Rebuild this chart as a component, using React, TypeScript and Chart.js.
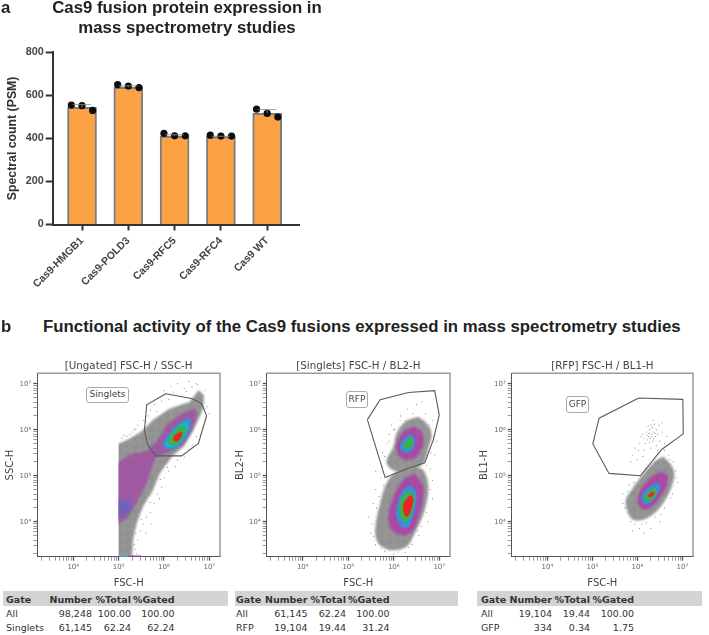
import React, { useEffect, useRef } from "react";
import { Chart, registerables } from "chart.js";

const softEdgePlugin = {
  id: "softEdge",
  beforeDatasetDraw(chart: any, args: any) {
    const ds = chart.data.datasets[args.index];
    if (!ds.soft) return;
    const { ctx, chartArea: a, scales } = chart;
    ctx.save();
    if (ds.clipFrom) {
      const x = scales.x.getPixelForValue(ds.clipFrom);
      ctx.beginPath();
      ctx.rect(x, a.top, a.right - x, a.bottom - a.top);
      ctx.clip();
    }
    ctx.filter = `blur(${ds.soft}px)`;
  },
  afterDatasetDraw(chart: any, args: any) {
    if (chart.data.datasets[args.index].soft) chart.ctx.restore();
  },
};
Chart.register(softEdgePlugin as any);
Chart.register(...registerables);

// ---------- panel a data ----------
const categories = ["Cas9-HMGB1", "Cas9-POLD3", "Cas9-RFC5", "Cas9-RFC4", "Cas9 WT"];
const meanPsm = [544, 637, 411, 408, 516];
const sdPsm = [13, 7, 6, 2, 18];
const replicatesPsm = [
  [555, 552, 530],
  [650, 643, 636],
  [423, 412, 412],
  [415, 411, 411],
  [536, 516, 499],
];
const replicateOffsets = [-0.23, 0, 0.23];

// ---------- panel b data (log10 FSC-H, log10 signal) ----------
type P = [number, number];
const p1Gate: P[] = [[6.04,6.78],[6.61,6.68],[6.83,6.57],[6.94,6.30],[6.76,5.70],[6.39,5.43],[5.82,5.43],[5.64,5.67],[5.57,5.99],[5.62,6.54]];
const p1Gray: P[] = [[4.9,3.24],[4.9,5.70],[5.0,5.70],[5.25,5.81],[5.54,5.99],[5.76,6.21],[6.13,6.46],[6.57,6.61],[6.76,6.86],[6.88,6.75],[6.87,6.5],[6.79,6.28],[6.65,5.99],[6.43,5.63],[6.21,5.45],[5.91,5.05],[5.76,4.69],[5.54,4.33],[5.40,3.96],[5.32,3.6],[5.29,3.24]];
const p1Magenta: P[] = [[4.9,3.89],[4.9,5.2],[5.24,5.45],[5.62,5.54],[5.87,5.78],[6.06,6.10],[6.35,6.32],[6.68,6.46],[6.73,6.32],[6.61,5.99],[6.43,5.70],[6.13,5.52],[5.84,5.41],[5.76,5.27],[5.65,4.91],[5.47,4.54],[5.21,4.11]];
const p1Low: P[] = [[4.9,4.48],[5.21,4.46],[5.29,4.33],[5.18,4.18],[4.9,4.09]];
const p1Blue: P[] = [[6.60,6.26],[6.44,6.21],[6.21,6.03],[6.02,5.78],[5.99,5.63],[6.17,5.57],[6.39,5.70],[6.57,5.99]];
const p1Cyan: P[] = [[6.54,6.17],[6.39,6.14],[6.19,5.96],[6.06,5.75],[6.04,5.64],[6.18,5.62],[6.37,5.74],[6.52,6.01]];
const p1Green: P[] = [[6.49,6.07],[6.34,6.07],[6.13,5.85],[6.10,5.70],[6.24,5.67],[6.43,5.85]];
const p1Red: P[] = [[6.39,5.96],[6.24,5.88],[6.21,5.78],[6.28,5.74],[6.39,5.85]];
const p1Events: P[] = [[5.12,5.88],[5.3,5.95],[5.42,6.1],[5.55,6.2],[5.7,6.42],[5.8,6.55],[5.9,6.7],[6.0,6.85],[6.15,6.95],[6.3,7.0],[6.55,7.05],[6.62,6.93],[6.75,6.98],[6.9,6.85],[6.95,6.5],[6.92,6.2],[6.8,5.9],[6.62,5.65],[6.45,5.4],[6.25,5.2],[6.1,5.1],[6.0,4.95],[5.95,4.75],[5.85,4.6],[5.78,4.4],[5.7,4.2],[5.62,4.1],[5.55,3.95],[5.48,3.8],[5.42,3.6],[5.38,3.4],[5.4,3.3],[5.9,4.5],[5.72,3.95],[5.6,3.75],[6.05,5.35],[5.25,5.9],[5.08,5.82],[5.35,6.0],[5.65,6.3],[5.95,6.62],[6.2,6.82],[6.45,6.9],[6.7,7.0],[7.0,6.35],[6.86,6.05],[5.5,4.3],[5.68,4.6],[5.8,5.0],[5.18,5.86],[5.38,6.02],[5.6,6.18],[5.84,6.4],[6.1,6.66],[6.5,6.84],[6.92,6.45],[6.72,5.85],[6.55,5.58],[6.3,5.34],[6.08,5.18],[5.92,4.92],[5.7,4.42],[5.5,4.05],[5.38,3.75],[5.34,3.5]];
const p1PileCyan: P[] = [[5.0,3.25],[5.2,3.25]];
const p1PileMagenta: P[] = [[5.2,3.25],[5.5,3.25]];

const p2Gate: P[] = [[5.42,6.22],[5.70,6.65],[6.32,6.81],[6.90,6.85],[7.00,6.32],[6.87,5.78],[6.68,5.28],[6.32,5.16],[5.81,4.96]];
const p2GrayUp: P[] = [[6.54,6.28],[6.72,6.14],[6.83,5.92],[6.76,5.59],[6.65,5.27],[6.35,5.09],[5.99,5.12],[5.84,5.30],[5.99,5.63],[6.06,5.92],[6.24,6.17]];
const p2GrayLow: P[] = [[6.43,5.20],[6.65,5.12],[6.76,4.76],[6.68,4.25],[6.46,3.75],[6.28,3.46],[5.92,3.38],[5.66,3.53],[5.59,3.82],[5.70,4.40],[5.84,4.83],[6.06,5.09]];
const p2MagentaUp: P[] = [[6.43,6.07],[6.61,5.96],[6.65,5.70],[6.50,5.41],[6.28,5.34],[6.10,5.45],[6.06,5.67],[6.21,5.96]];
const p2BlueUp: P[] = [[6.35,5.91],[6.46,5.81],[6.43,5.59],[6.28,5.49],[6.15,5.56],[6.17,5.74]];
const p2GreenUp: P[] = [[6.37,5.83],[6.43,5.78],[6.39,5.64],[6.28,5.57],[6.22,5.63],[6.27,5.76]];
const p2MagentaLow: P[] = [[6.46,5.05],[6.65,4.76],[6.61,4.33],[6.43,3.82],[6.21,3.71],[5.95,3.82],[5.88,4.11],[5.99,4.54],[6.21,4.91]];
const p2BlueLow: P[] = [[6.39,4.80],[6.50,4.62],[6.46,4.25],[6.32,3.89],[6.17,3.89],[6.05,4.14],[6.10,4.47],[6.24,4.72]];
const p2GreenLow: P[] = [[6.39,4.65],[6.46,4.51],[6.41,4.22],[6.28,4.00],[6.17,4.07],[6.11,4.29],[6.17,4.51],[6.28,4.63]];
const p2RedLow: P[] = [[6.39,4.58],[6.43,4.47],[6.35,4.18],[6.28,4.11],[6.21,4.22],[6.22,4.40],[6.32,4.54]];
const p2Events: P[] = [[5.75,5.5],[5.85,5.7],[5.9,5.9],[5.95,6.1],[6.15,6.3],[6.3,6.45],[6.5,6.55],[6.62,6.6],[6.7,6.35],[6.85,6.2],[6.95,5.75],[6.9,5.45],[6.8,5.15],[6.85,4.9],[6.85,4.5],[6.75,4.0],[6.55,3.7],[6.4,3.5],[6.6,3.9],[6.25,3.33],[6.0,3.3],[5.8,3.35],[5.6,3.5],[5.5,3.75],[5.45,4.1],[5.55,4.4],[5.6,4.7],[5.72,4.95],[5.6,5.1],[5.75,5.2],[6.25,6.2],[6.0,6.0],[6.7,6.0],[5.8,5.42],[5.9,5.75],[6.02,6.0],[6.14,6.2],[6.42,6.35],[6.78,6.1],[6.88,5.85],[6.82,5.5],[6.72,5.22],[6.8,4.7],[6.72,4.2],[6.52,3.8],[6.32,3.44],[6.1,3.34],[5.72,3.42],[5.56,3.68],[5.52,3.95],[5.62,4.3],[5.68,4.55],[5.78,4.78]];

const p3Gate: P[] = [[6.03,6.69],[7.01,6.66],[7.02,5.91],[6.54,5.57],[6.07,5.00],[5.37,5.05],[5.01,5.69],[5.15,6.25]];
const p3Gray: P[] = [[6.57,5.42],[6.75,5.24],[6.82,4.99],[6.68,4.58],[6.42,4.22],[6.12,4.04],[5.87,4.07],[5.74,4.44],[5.90,4.73],[6.12,5.02],[6.38,5.31]];
const p3Magenta: P[] = [[6.57,5.09],[6.68,4.95],[6.57,4.62],[6.27,4.29],[6.09,4.29],[6.00,4.47],[6.12,4.77],[6.38,5.02]];
const p3Blue: P[] = [[6.46,4.86],[6.51,4.77],[6.42,4.55],[6.23,4.38],[6.11,4.42],[6.09,4.55],[6.23,4.73]];
const p3Green: P[] = [[6.38,4.74],[6.44,4.66],[6.35,4.51],[6.21,4.44],[6.16,4.53],[6.26,4.67]];
const p3Red: P[] = [[6.35,4.66],[6.37,4.58],[6.27,4.53],[6.24,4.58]];
const p3Events: P[] = [[6.31,5.9],[6.25,5.85],[6.35,5.95],[6.28,6.0],[6.4,5.85],[6.2,5.95],[6.33,6.05],[6.22,5.78],[6.36,5.8],[6.3,6.1],[6.42,6.0],[6.15,5.82],[6.27,5.72],[6.45,5.9],[6.38,6.12],[6.18,5.7],[6.12,5.9],[6.5,5.75],[6.48,6.1],[6.24,6.08],[6.55,5.95],[6.05,5.7],[6.08,5.85],[6.02,5.55],[5.95,5.6],[6.15,5.55],[6.3,5.6],[6.42,5.65],[6.55,6.15],[6.35,6.2],[6.45,5.55],[5.9,5.45],[5.85,5.3],[6.0,5.35],[6.12,5.42],[6.6,5.7],[6.65,5.85],[6.32,5.85],[6.26,5.92],[6.34,5.75],[6.29,5.82],[6.39,5.92],[6.21,5.88],[6.6,5.55],[6.7,5.45],[6.8,5.3],[6.85,5.1],[6.9,4.85],[6.78,4.6],[6.6,4.3],[6.4,4.1],[6.2,3.98],[6.05,3.85],[5.95,3.95],[5.9,3.8],[6.15,3.75],[5.8,4.2],[5.68,4.4],[5.68,4.6],[5.82,4.8],[5.98,5.0],[6.18,5.15],[6.3,3.85],[6.5,4.0],[6.72,5.35],[6.86,4.95],[6.74,4.52],[6.52,4.16],[6.1,3.95],[5.85,4.0],[5.72,4.3],[5.78,4.66],[5.92,4.85]];

const table1 = [["Gate","Number","%Total","%Gated"],["All","98,248","100.00","100.00"],["Singlets","61,145","62.24","62.24"]];
const table2 = [["Gate","Number","%Total","%Gated"],["All","61,145","62.24","100.00"],["RFP","19,104","19.44","31.24"]];
const table3 = [["Gate","Number","%Total","%Gated"],["All","19,104","19.44","100.00"],["GFP","334","0.34","1.75"]];

// ---------- styles ----------
const BLUE = "#3b8fd6", CYAN = "#1fb3c4", GREEN = "#3fb04a", RED = "#ee2222", MAGENTA_FLAT = "#a2409f";
const ARIAL = "'Liberation Sans', Arial, sans-serif";
const UI = "'DejaVu Sans', sans-serif";
const LOG_MIN = 3.207, LOG_MAX = 7.236, LOGY_MIN = 3.239, LOGY_MAX = 7.225;
const TILE = ["#..#.#.#", ".#..##..", "#.#...#.", "..#.#..#", ".#...#.#", "#..#..#.", ".##.#...", "#...#.##"];

function mottled(dark: string, light: string) {
  const c = document.createElement("canvas");
  c.width = 8; c.height = 8;
  const g = c.getContext("2d")!;
  TILE.forEach((row, y) => [...row].forEach((ch, x) => {
    g.fillStyle = ch === "#" ? dark : light;
    g.fillRect(x, y, 1, 1);
  }));
  return g.createPattern(c, "repeat")!;
}

const toXY = (pts: P[]) => pts.map(([a, b]) => ({ x: Math.pow(10, a), y: Math.pow(10, b) }));

function contour(pts: P[], color: any, order: number, soft: number, tension = 0.35, clipFrom?: number) {
  return {
    type: "scatter", data: toXY([...pts, pts[0]]), showLine: true, fill: "shape", backgroundColor: color,
    borderColor: "rgba(0,0,0,0)", borderWidth: 0, pointRadius: 0, tension, order, soft, clipFrom,
  } as any;
}
function gate(pts: P[]) {
  return {
    type: "scatter", data: toXY([...pts, pts[0]]), showLine: true, fill: false, borderColor: "#5a5a5a",
    borderWidth: 1.1, pointRadius: 0, tension: 0, order: 0,
  } as any;
}
function events(pts: P[]) {
  return {
    type: "scatter", data: toXY(pts), showLine: false, pointRadius: 0.6, pointBackgroundColor: "#8f8f8f",
    pointBorderWidth: 0, order: 50,
  } as any;
}
function strip(pts: P[], color: string) {
  return {
    type: "scatter", data: toXY(pts), showLine: true, fill: false, borderColor: color, borderWidth: 1.5,
    pointRadius: 0, order: 1,
  } as any;
}

const framePlugin = {
  id: "frame",
  beforeDatasetsDraw(chart: any) {
    const { ctx, chartArea: a } = chart;
    ctx.save();
    ctx.strokeStyle = "#9a9a9a";
    ctx.lineWidth = 1.5;
    ctx.beginPath();
    ctx.moveTo(a.left, a.top);
    ctx.lineTo(a.right, a.top);
    ctx.lineTo(a.right, a.bottom);
    ctx.stroke();
    ctx.restore();
  },
};

const errorPlugin = {
  id: "errorBars",
  afterDatasetsDraw(chart: any) {
    const { ctx, scales } = chart;
    ctx.save();
    ctx.strokeStyle = "#8a8a8a";
    ctx.lineWidth = 0.8;
    meanPsm.forEach((m, i) => {
      const x0 = scales.x.getPixelForValue(i - 0.2);
      const x1 = scales.x.getPixelForValue(i + 0.2);
      const xc = scales.x.getPixelForValue(i);
      const yt = scales.y.getPixelForValue(m + sdPsm[i]);
      const yb = scales.y.getPixelForValue(m);
      ctx.beginPath();
      ctx.moveTo(x0, yt); ctx.lineTo(x1, yt);
      ctx.moveTo(xc, yt); ctx.lineTo(xc, yb);
      ctx.stroke();
    });
    ctx.restore();
  },
};

function logAxis(axis: "x" | "y", title: string, fit: number, min: number, max: number) {
  const isX = axis === "x";
  return {
    type: "logarithmic",
    min: Math.pow(10, min),
    max: Math.pow(10, max),
    afterBuildTicks(scale: any) {
      const out: any[] = [];
      for (let e = 3; e < 8; e++) {
        for (let m = 1; m < 10; m++) {
          const v = m * Math.pow(10, e);
          if (v >= scale.min && v <= scale.max) out.push({ value: v, major: m === 1 });
        }
      }
      scale.ticks = out;
    },
    afterFit(scale: any) {
      if (isX) scale.height = fit; else scale.width = fit;
    },
    title: {
      display: true, text: title, color: "#444",
      font: { family: UI, size: 10 },
      padding: isX ? { top: 0, bottom: 1 } : { top: 4, bottom: 0 },
    },
    border: { display: true, color: "#555", width: 1 },
    grid: {
      drawOnChartArea: false, drawTicks: true, tickLength: 4,
      tickColor: "#555",
      tickWidth: (c: any) => (c.tick && c.tick.major ? 1.3 : 0.6),
    },
    ticks: {
      autoSkip: false, maxRotation: 0, minRotation: 0, color: "#666", padding: 2,
      font: { family: UI, size: 7 },
      callback(v: number) {
        const e = Math.log10(v);
        if (Math.abs(e - Math.round(e)) > 1e-6) return "";
        return "10" + ({ 4: "⁴", 5: "⁵", 6: "⁶", 7: "⁷" } as any)[Math.round(e)];
      },
    },
  } as any;
}

function flowConfig(title: string, yTitle: string, datasets: any[], yFit: number, padRight: number) {
  return {
    type: "scatter",
    data: { datasets },
    plugins: [framePlugin],
    options: {
      animation: false, responsive: false,
      layout: { padding: { right: padRight, top: 0, bottom: 0, left: 0 } },
      plugins: {
        legend: { display: false }, tooltip: { enabled: false },
        title: {
          display: true, text: title, color: "#444", fullSize: false,
          font: { family: UI, size: 10.3, weight: "normal", lineHeight: 1.2 },
          padding: { top: 2, bottom: 1 },
        },
      },
      scales: {
        x: logAxis("x", "FSC-H", 33.3, LOG_MIN, LOG_MAX),
        y: logAxis("y", yTitle, yFit, LOGY_MIN, LOGY_MAX),
      },
    },
  } as any;
}

const gateLabels = [
  { text: "Singlets", left: 86, top: 387, w: 43, h: 15.5 },
  { text: "RFP", left: 346, top: 391, w: 22, h: 16.5 },
  { text: "GFP", left: 566, top: 396, w: 23, h: 16.5 },
];
const tableLayouts = [
  { data: table1, barL: 3, barW: 225, gate: 6, cols: [92, 131, 174.5] },
  { data: table2, barL: 235, barW: 222.5, gate: 236, cols: [307.5, 346, 389.5] },
  { data: table3, barL: 476.5, barW: 225, gate: 481, cols: [552, 590, 634] },
];

export default function App() {
  const barRef = useRef<HTMLCanvasElement>(null);
  const f1 = useRef<HTMLCanvasElement>(null);
  const f2 = useRef<HTMLCanvasElement>(null);
  const f3 = useRef<HTMLCanvasElement>(null);

  useEffect(() => {
    const GRAY = mottled("#7c7c7c", "#a4a4a4");
    const MAGENTA = mottled("#9c3a9c", "#b055ac");
    const MAGENTA_DUSTY = mottled("#a23fa2", "#9b6c9e");
    const charts: Chart[] = [];
    charts.push(new Chart(barRef.current!, {
      type: "bar",
      data: {
        datasets: [
          {
            type: "scatter",
            data: replicatesPsm.flatMap((r, i) => r.map((y, j) => ({ x: i + replicateOffsets[j], y }))),
            pointRadius: 3.6, pointBackgroundColor: "#0c0c0c", pointBorderWidth: 0, order: 0,
          },
          {
            type: "bar",
            data: meanPsm.map((y, i) => ({ x: i, y })),
            backgroundColor: "#fba244", borderColor: "#7d7d7d", borderWidth: 2,
            barThickness: 29, order: 1,
          },
        ] as any,
      },
      plugins: [errorPlugin],
      options: {
        animation: false, responsive: false,
        layout: { padding: { right: 75, left: 0, top: 52.3, bottom: 0 } },
        plugins: { legend: { display: false }, tooltip: { enabled: false } },
        scales: {
          x: {
            type: "linear", offset: false, min: -0.633, max: 4.687,
            afterBuildTicks(s: any) { s.ticks = categories.map((_, i) => ({ value: i })); },
            afterFit(s: any) { s.height = 75.5; },
            border: { color: "#333", width: 2 },
            grid: { drawOnChartArea: false, offset: false, tickColor: "#333", tickWidth: 2, tickLength: 6 },
            ticks: {
              autoSkip: false, minRotation: 45, maxRotation: 45, color: "#444", padding: 4,
              font: { family: ARIAL, size: 10.5, weight: "bold" },
              callback: (v: number) => categories[v],
            },
          } as any,
          y: {
            min: 0, max: 800,
            afterFit(s: any) { s.width = 52.7; },
            title: {
              display: true, text: "Spectral count (PSM)", color: "#333",
              font: { family: ARIAL, size: 12.3, weight: "bold" }, padding: { top: 5, bottom: 0 },
            },
            border: { color: "#333", width: 2 },
            grid: { drawOnChartArea: false, tickColor: "#333", tickWidth: 2, tickLength: 7 },
            ticks: {
              stepSize: 200, color: "#444", padding: 2,
              font: { family: ARIAL, size: 10.8, weight: "bold" },
            },
          } as any,
        },
      },
    } as any));

    charts.push(new Chart(f1.current!, flowConfig("[Ungated] FSC-H / SSC-H", "SSC-H", [
      gate(p1Gate),
      strip(p1PileCyan, CYAN), strip(p1PileMagenta, MAGENTA_FLAT),
      contour(p1Red, RED, 2, 0.5), contour(p1Green, GREEN, 3, 0.5), contour(p1Cyan, CYAN, 4, 0.5), contour(p1Blue, BLUE, 5, 0.6),
      contour(p1Low, "#6f62bf", 6, 1.5, 0.3, 1e5), contour(p1Magenta, MAGENTA_DUSTY, 7, 1, 0.12, 1e5), contour(p1Gray, GRAY, 8, 1.3, 0.08, 1e5),
      events(p1Events),
    ], 37.3, 8)));
    charts.push(new Chart(f2.current!, flowConfig("[Singlets] FSC-H / BL2-H", "BL2-H", [
      gate(p2Gate),
      contour(p2RedLow, RED, 2, 0.5), contour(p2GreenUp, GREEN, 2, 0.5), contour(p2GreenLow, GREEN, 3, 0.5),
      contour(p2BlueUp, BLUE, 5, 0.6), contour(p2BlueLow, BLUE, 5, 0.6),
      contour(p2MagentaUp, MAGENTA, 7, 1), contour(p2MagentaLow, MAGENTA, 7, 1),
      contour(p2GrayUp, GRAY, 8, 1.3), contour(p2GrayLow, GRAY, 8, 1.3),
      events(p2Events),
    ], 36.7, 8)));
    charts.push(new Chart(f3.current!, flowConfig("[RFP] FSC-H / BL1-H", "BL1-H", [
      gate(p3Gate),
      contour(p3Red, RED, 2, 0.5), contour(p3Green, GREEN, 3, 0.5), contour(p3Blue, BLUE, 5, 0.6),
      contour(p3Magenta, MAGENTA, 7, 1), contour(p3Gray, GRAY, 8, 1.3),
      events(p3Events),
    ], 37.7, 9)));
    return () => charts.forEach((c) => c.destroy());
  }, []);

  const abs = (l: number, t: number, w: number, h: number): React.CSSProperties => ({
    position: "absolute", left: l, top: t, width: w, height: h, display: "block",
  });
  const heading = `bold 16.8px/20px ${ARIAL}`;

  return (
    <div style={{ position: "absolute", left: 0, top: 0, width: 709, height: 635, background: "#fff", overflow: "hidden", filter: "blur(0.35px)" }}>
      <canvas ref={barRef} width={374} height={300} style={abs(0, 0, 374, 300)} />
      <div style={{ position: "absolute", left: 0, top: -2, width: 374, textAlign: "center", font: heading, color: "#222" }}>
        Cas9 fusion protein expression in<br />mass spectrometry studies
      </div>
      <div style={{ position: "absolute", left: 1, top: -2, font: heading, color: "#222" }}>a</div>
      <div style={{ position: "absolute", left: 1, top: 317, font: heading, color: "#222" }}>b</div>
      <div style={{ position: "absolute", left: 43, top: 317, font: heading, color: "#222", whiteSpace: "nowrap", letterSpacing: "0.02px" }}>
        Functional activity of the Cas9 fusions expressed in mass spectrometry studies
      </div>
      <canvas ref={f1} width={228} height={232} style={abs(0, 358, 228, 232)} />
      <canvas ref={f2} width={228} height={232} style={abs(230, 358, 228, 232)} />
      <canvas ref={f3} width={228} height={232} style={abs(474, 358, 228, 232)} />
      {gateLabels.map((g) => (
        <div key={g.text} style={{
          position: "absolute", left: g.left, top: g.top, width: g.w, height: g.h, boxSizing: "border-box",
          border: "1px solid #aaa", borderRadius: 3, background: "#fff", textAlign: "center",
          font: `9px/${g.h - 2}px ${UI}`, color: "#444",
        }}>{g.text}</div>
      ))}
      {tableLayouts.map((t, ti) => (
        <React.Fragment key={ti}>
          <div style={{ position: "absolute", left: t.barL, top: 591, width: t.barW, height: 15, background: "#d4d4d4" }} />
          {t.data.map((row, r) => (
            <React.Fragment key={r}>
              <span style={{ position: "absolute", left: t.gate, top: 592.5 + r * 14, font: `${r === 0 ? "bold " : ""}9.5px/14px ${UI}`, color: "#333" }}>{row[0]}</span>
              {t.cols.map((c, i) => (
                <span key={i} style={{ position: "absolute", right: 709 - c, top: 592.5 + r * 14, font: `${r === 0 ? "bold " : ""}9.5px/14px ${UI}`, color: "#333", whiteSpace: "nowrap" }}>{row[i + 1]}</span>
              ))}
            </React.Fragment>
          ))}
        </React.Fragment>
      ))}
    </div>
  );
}
